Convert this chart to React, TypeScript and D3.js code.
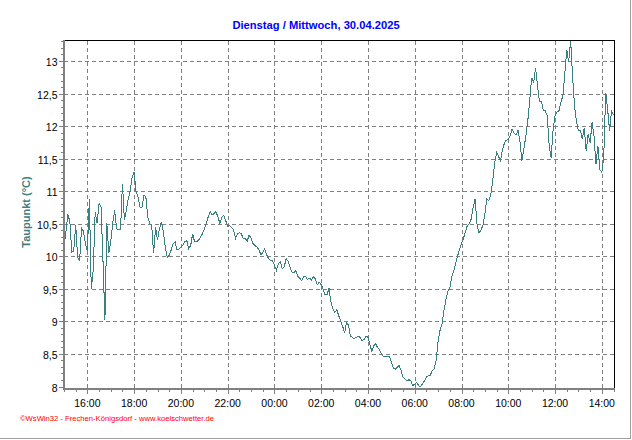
import React from "react";
import * as d3 from "d3";

const chartTitle = "Dienstag / Mittwoch, 30.04.2025";
const yAxisTitle = "Taupunkt (°C)";
const footerText = "©WsWin32 - Frechen-Königsdorf - www.koelschwetter.de";

const startTime = new Date(2025, 3, 29, 15, 0);
const endTime = new Date(2025, 3, 30, 14, 30);
const stepMinutes = 5;

const yTickValues = [8, 8.5, 9, 9.5, 10, 10.5, 11, 11.5, 12, 12.5, 13];
const yDomain = [8, 13.33];

// dew point (°C), one reading every 5 minutes from 15:00
const dewPoint = [
  10.15, 10.4, 10.66, 10.55, 10.08, 10.1, 10.5, 10.0, 9.95, 10.45,
  10.4, 10.21, 10.1, 10.89, 9.52, 9.8, 10.7, 10.52, 10.83, 10.77,
  9.95, 9.04, 10.52, 10.06, 10.24, 10.52, 10.72, 10.44, 10.42, 10.42,
  11.13, 10.57, 10.72, 10.9, 11.03, 11.24, 11.31, 11.0, 10.93, 10.77,
  10.77, 10.95, 10.93, 10.62, 10.52, 10.49, 10.06, 10.47, 10.26, 10.44,
  10.54, 10.39, 10.16, 10.0, 10.03, 10.11, 10.21, 10.24, 10.11, 10.13,
  10.16, 10.18, 10.24, 10.26, 10.13, 10.18, 10.36, 10.24, 10.24, 10.26,
  10.31, 10.36, 10.43, 10.52, 10.62, 10.7, 10.65, 10.67, 10.7, 10.62,
  10.52, 10.61, 10.65, 10.56, 10.48, 10.49, 10.46, 10.42, 10.29, 10.36,
  10.38, 10.36, 10.29, 10.29, 10.25, 10.34, 10.3, 10.21, 10.18, 10.16,
  10.12, 10.04, 10.07, 10.13, 10.04, 9.98, 9.95, 9.95, 9.88, 9.8,
  9.9, 9.93, 9.83, 9.85, 9.98, 9.94, 9.85, 9.77, 9.76, 9.8,
  9.71, 9.68, 9.64, 9.71, 9.7, 9.66, 9.68, 9.65, 9.7, 9.67,
  9.58, 9.62, 9.58, 9.51, 9.42, 9.43, 9.52, 9.31, 9.21, 9.15,
  9.2, 9.1, 9.02, 8.94, 8.84, 9.0, 8.96, 8.79, 8.77, 8.75,
  8.77, 8.79, 8.77, 8.72, 8.74, 8.79, 8.77, 8.66, 8.55, 8.64,
  8.67, 8.61, 8.58, 8.5, 8.48, 8.48, 8.48, 8.47, 8.4, 8.3,
  8.28, 8.31, 8.34, 8.26, 8.16, 8.13, 8.1, 8.12, 8.1, 8.03,
  8.05, 8.08, 8.03, 8.01, 8.06, 8.1, 8.16, 8.18, 8.19, 8.26,
  8.29, 8.42, 8.72, 8.88, 8.98, 9.18, 9.35, 9.48, 9.52, 9.7,
  9.79, 9.9, 10.02, 10.13, 10.21, 10.29, 10.39, 10.49, 10.52, 10.59,
  10.77, 10.9, 10.49, 10.37, 10.42, 10.49, 10.66, 10.9, 10.87, 10.95,
  11.18, 11.44, 11.61, 11.55, 11.48, 11.65, 11.75, 11.8, 11.81, 11.87,
  11.97, 11.91, 11.88, 11.95, 11.77, 11.48, 11.66, 11.86, 12.09, 12.4,
  12.76, 12.68, 12.91, 12.63, 12.4, 12.4, 12.25, 12.25, 12.17, 11.71,
  11.53, 11.96, 12.17, 12.23, 12.25, 12.38, 12.48, 12.81, 13.19, 13.0,
  13.33, 12.78, 12.32, 12.09, 11.94, 11.95, 11.82, 11.99, 11.63, 11.89,
  11.76, 12.07, 11.86, 11.43, 11.71, 11.35, 11.3, 11.55, 12.53, 12.27,
  11.94, 12.25, 12.19,
];

export default function App() {
  const W = 632;
  const H = 440;
  const left = 64;
  const right = 613.5;
  const top = 40.5;
  const bottom = 387.5;

  const x = d3.scaleTime().domain([startTime, endTime]).range([left, right]);
  const y = d3.scaleLinear().domain(yDomain).range([bottom, top]);

  const timeAt = (i: number) => new Date(startTime.getTime() + i * stepMinutes * 60000);

  const line = d3
    .line<number>()
    .x((_, i) => x(timeAt(i)))
    .y((d) => y(d));

  const majorX = d3.timeHour.every(2)!.range(startTime, endTime).filter((d) => +d > +startTime);
  const minorX = d3.timeMinute.every(30)!.range(startTime, new Date(+endTime + 1));
  const minorY = d3.range(80, 134).map((v) => v / 10);
  const fmtTime = d3.timeFormat("%H:%M");
  const fmtY = (v: number) => String(v).replace(".", ",");

  const px = (v: number) => Math.round(v) + 0.5;

  return (
    <svg
      width={W}
      height={H}
      style={{ position: "fixed", left: 0, top: 0, background: "#fff" }}
      fontFamily="'Liberation Sans', Arial, sans-serif"
    >
      <rect x={0} y={0} width={W} height={H} fill="#fff" />
      {/* outer frame */}
      <line x1={630.5} y1={0} x2={630.5} y2={439} stroke="#a0a0a0" strokeWidth={1} shapeRendering="crispEdges" />
      <line x1={0} y1={438.5} x2={631} y2={438.5} stroke="#a0a0a0" strokeWidth={1} shapeRendering="crispEdges" />

      <text x={316} y={29} textAnchor="middle" fill="#0000ff" fontWeight="bold" fontSize={11.2}>
        {chartTitle}
      </text>

      {/* grid */}
      <g stroke="#808080" strokeWidth={1} strokeDasharray="4 3" shapeRendering="crispEdges">
        {yTickValues
          .filter((v) => v > 8)
          .map((v) => (
            <line key={"gy" + v} x1={left} x2={right} y1={px(y(v)) - 1} y2={px(y(v)) - 1} />
          ))}
        {majorX.map((d) => (
          <line key={"gx" + +d} x1={px(x(d))} x2={px(x(d))} y1={top} y2={bottom} />
        ))}
      </g>

      {/* data */}
      <path
        d={line(dewPoint) || ""}
        fill="none"
        stroke="#3b8080"
        strokeWidth={1}
        shapeRendering="crispEdges"
      />

      {/* frame top/right */}
      <g stroke="#000" strokeWidth={1} shapeRendering="crispEdges">
        <line x1={left - 1} x2={px(right)} y1={top} y2={top} />
        <line x1={px(right)} x2={px(right)} y1={top} y2={bottom + 1} />
      </g>

      {/* axes */}
      <g stroke="#808080" shapeRendering="crispEdges">
        <line x1={63.5} x2={63.5} y1={top - 0.5} y2={bottom + 2} strokeWidth={2} />
        <line x1={62.5} x2={right + 1} y1={388.5} y2={388.5} strokeWidth={2} />
        {minorY.map((v) => (
          <line key={"my" + v} x1={60.5} x2={63} y1={px(y(v)) - 1} y2={px(y(v)) - 1} strokeWidth={1} />
        ))}
        {yTickValues.map((v) => (
          <line key={"My" + v} x1={58.5} x2={63} y1={px(y(v)) - 1} y2={px(y(v)) - 1} strokeWidth={1} />
        ))}
        {minorX.map((d) => (
          <line key={"mx" + +d} x1={px(x(d))} x2={px(x(d))} y1={389} y2={391.5} strokeWidth={1} />
        ))}
        {majorX.map((d) => (
          <line key={"Mx" + +d} x1={px(x(d))} x2={px(x(d))} y1={389} y2={393.5} strokeWidth={1} />
        ))}
      </g>

      <g fontSize={10.5} fill="#000">
        {yTickValues.map((v) => (
          <text key={"ly" + v} x={57.5} y={y(v) + 4} textAnchor="end">
            {fmtY(v)}
          </text>
        ))}
        {majorX.map((d) => (
          <text key={"lx" + +d} x={x(d)} y={406.5} textAnchor="middle">
            {fmtTime(d)}
          </text>
        ))}
      </g>

      <text
        transform="translate(30,212) rotate(-90)"
        textAnchor="middle"
        fill="#408080"
        fontWeight="bold"
        fontSize={11}
      >
        {yAxisTitle}
      </text>

      <text x={20} y={420.5} fill="#ff0000" fontSize={7} textLength={194} lengthAdjust="spacingAndGlyphs">
        {footerText}
      </text>
    </svg>
  );
}
